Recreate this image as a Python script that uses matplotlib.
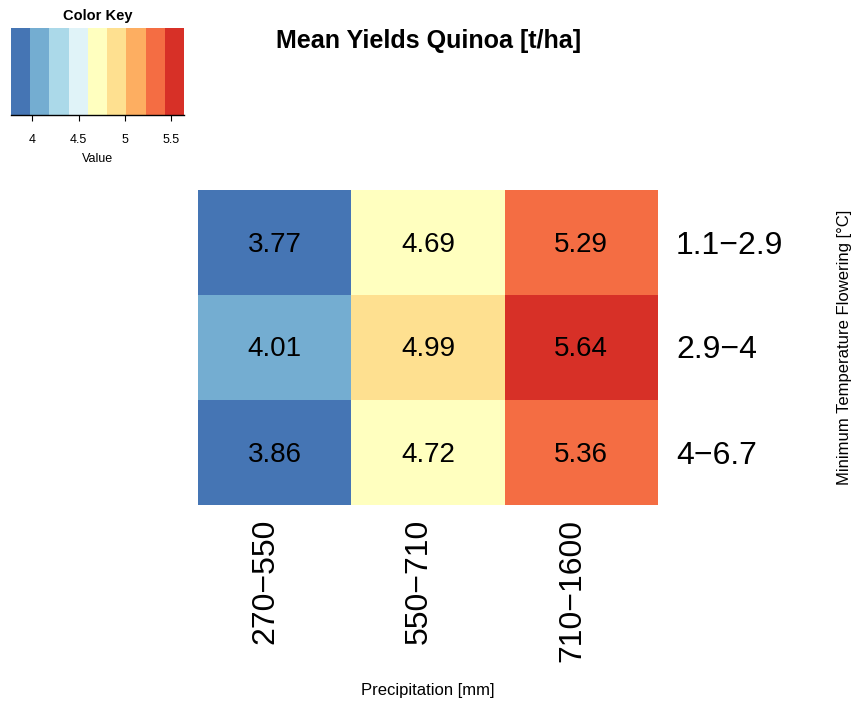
import numpy as np
import matplotlib
matplotlib.use("Agg")
import matplotlib.pyplot as plt
from matplotlib.colors import ListedColormap, BoundaryNorm
from matplotlib import transforms

plt.rcParams['font.family'] = ['Liberation Sans', 'DejaVu Sans']

# mean yields, rows = min temperature class, cols = precipitation class
row_labels = ["1.1\u22122.9", "2.9\u22124", "4\u22126.7"]
col_labels = ["270\u2212550", "550\u2212710", "710\u22121600"]
yields = np.array([[3.77, 4.69, 5.29],
                   [4.01, 4.99, 5.64],
                   [3.86, 4.72, 5.36]])
key_ticks = [4, 4.5, 5, 5.5]
key_ticklabels = ["4", "4.5", "5", "5.5"]

colors = ["#4575B4", "#74ADD1", "#ABD9E9", "#E0F3F8", "#FFFFBF",
          "#FEE090", "#FDAE61", "#F46D43", "#D73027"]
cmap = ListedColormap(colors)
breaks = np.linspace(yields.min(), yields.max(), len(colors) + 1)
norm = BoundaryNorm(breaks, len(colors), clip=True)

W, H = 857, 706
fig = plt.figure(figsize=(W / 100, H / 100), dpi=100)


def px_axes(x0, y0, x1, y1):
    return fig.add_axes([x0 / W, 1 - y1 / H, (x1 - x0) / W, (y1 - y0) / H])


# main heatmap
ax = px_axes(198, 190, 658, 505)
nr, nc = yields.shape
ax.pcolormesh(np.arange(nc + 1), np.arange(nr + 1), yields, cmap=cmap, norm=norm)
ax.set_xlim(0, nc)
ax.set_ylim(nr, 0)
cell_tr = transforms.offset_copy(ax.transData, fig=fig, x=0, y=-2, units="dots")
for i in range(nr):
    for j in range(nc):
        ax.text(j + 0.5, i + 0.5, f"{yields[i, j]:.2f}", ha="center", va="center",
                fontsize=20, color="black", transform=cell_tr)
for s in ax.spines.values():
    s.set_visible(False)
ax.set_xticks([])
ax.set_yticks([])

# row labels on the right
for i, lab in enumerate(row_labels):
    ax.text(1, 1 - (i + 0.5) / nr, lab, transform=transforms.offset_copy(
        ax.transAxes, fig=fig, x=18, y=-3, units="dots"),
        ha="left", va="center", fontsize=23)

# column labels below, rotated
for j, lab in enumerate(col_labels):
    ax.text((j + 0.5) / nc, 0, lab, transform=transforms.offset_copy(
        ax.transAxes, fig=fig, x=-9, y=-14, units="dots"),
        ha="center", va="top", rotation=90, fontsize=23)

fig.text(0.5, 1 - 41 / H, "Mean Yields Quinoa [t/ha]", ha="center", va="center",
         fontsize=18.1, fontweight="bold")
fig.text(428 / W, 1 - 690 / H, "Precipitation [mm]", ha="center", va="center",
         fontsize=12)
fig.text(845 / W, 1 - 347 / H, "Minimum Temperature Flowering [\u00b0C]",
         ha="center", va="center", rotation=90, fontsize=12)

# colour key
kax = px_axes(11, 28, 184, 115)
kax.pcolormesh(breaks, [0, 1], ((breaks[:-1] + breaks[1:]) / 2)[None, :],
               cmap=cmap, norm=norm)
kax.set_xlim(breaks[0], breaks[-1])
kax.set_ylim(0, 1)
kax.set_yticks([])
for side in ["top", "left", "right"]:
    kax.spines[side].set_visible(False)
kax.spines["bottom"].set_linewidth(1.0)
kax.set_xticks(key_ticks)
kax.set_xticklabels(key_ticklabels, fontsize=9)
kax.tick_params(axis="x", length=4.5, pad=9.5)
kax.set_xlabel("Value", fontsize=9, labelpad=5)
kax.set_title("Color Key", fontsize=10.5, fontweight="bold", pad=6)

fig.savefig("out.png", dpi=100)
